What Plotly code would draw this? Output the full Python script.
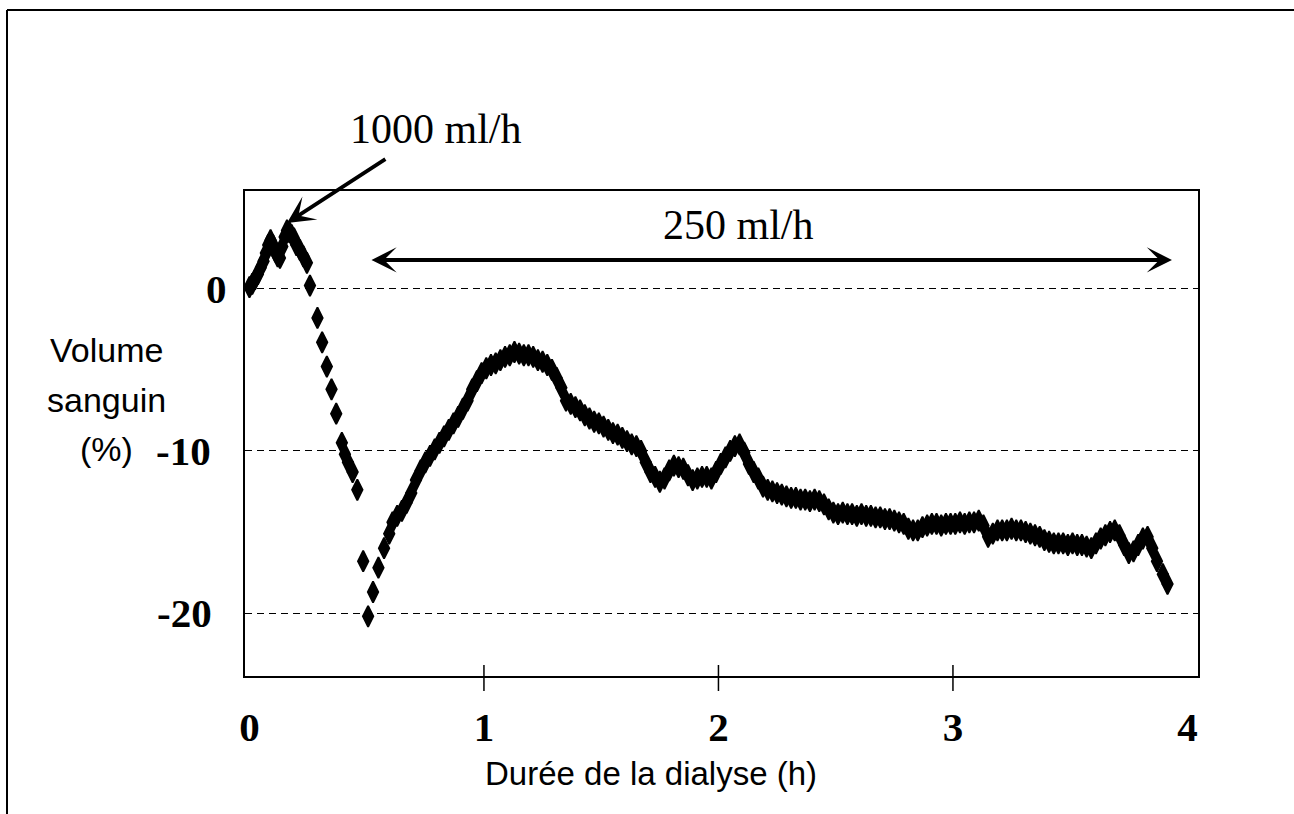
import plotly.graph_objects as go

# ---- data ----
time_h = [
    0.0, 0.012, 0.024, 0.036, 0.048, 0.06, 0.07, 0.08, 0.09, 0.10,
    0.11, 0.12, 0.13, 0.14, 0.15, 0.16, 0.17, 0.18, 0.19, 0.20,
    0.215, 0.23, 0.245, 0.258, 0.29, 0.31, 0.33, 0.35, 0.37, 0.394,
    0.407, 0.42, 0.44, 0.46, 0.485, 0.506, 0.527, 0.55, 0.574, 0.596,
    0.61, 0.63, 0.65, 0.67, 0.69, 0.71, 0.73, 0.75, 0.77, 0.79,
    0.81, 0.83, 0.85, 0.87, 0.89, 0.91, 0.93, 0.95, 0.97, 0.99,
    1.01, 1.03, 1.05, 1.07, 1.09, 1.11, 1.13, 1.15, 1.17, 1.19,
    1.21, 1.23, 1.25, 1.27, 1.29, 1.31, 1.33, 1.35, 1.37, 1.39,
    1.41, 1.43, 1.45, 1.47, 1.49, 1.51, 1.53, 1.55, 1.57, 1.59,
    1.61, 1.63, 1.65, 1.67, 1.69, 1.71, 1.73, 1.75, 1.77, 1.79,
    1.81, 1.83, 1.85, 1.87, 1.89, 1.91, 1.93, 1.95, 1.97, 1.99,
    2.01, 2.03, 2.05, 2.07, 2.09, 2.11, 2.13, 2.15, 2.17, 2.19,
    2.21, 2.23, 2.25, 2.27, 2.29, 2.31, 2.33, 2.35, 2.37, 2.39,
    2.41, 2.43, 2.45, 2.47, 2.49, 2.51, 2.53, 2.55, 2.57, 2.59,
    2.61, 2.63, 2.65, 2.67, 2.69, 2.71, 2.73, 2.75, 2.77, 2.79,
    2.81, 2.83, 2.85, 2.87, 2.89, 2.91, 2.93, 2.95, 2.97, 2.99,
    3.01, 3.03, 3.05, 3.07, 3.09, 3.11, 3.13, 3.15, 3.17, 3.19,
    3.21, 3.23, 3.25, 3.27, 3.29, 3.31, 3.33, 3.35, 3.37, 3.39,
    3.41, 3.43, 3.45, 3.47, 3.49, 3.51, 3.53, 3.55, 3.57, 3.59,
    3.61, 3.63, 3.65, 3.67, 3.69, 3.71, 3.73, 3.75, 3.77, 3.79,
    3.81, 3.83, 3.85, 3.87, 3.895, 3.915,
]
volume_pct = [
    0.1, 0.3, 0.6, 0.9, 1.3, 1.7, 2.2, 2.7, 3.0, 2.7,
    2.3, 2.0, 1.9, 2.6, 3.2, 3.6, 3.5, 3.3, 3.1, 2.7,
    2.4, 2.0, 1.6, 0.2, -1.8, -3.3, -4.8, -6.2, -7.7, -9.5,
    -10.2, -10.7, -11.3, -12.4, -16.8, -20.2, -18.7, -17.2, -16.0, -15.1,
    -14.4, -14.0, -13.7, -13.2, -12.6, -11.8, -11.2, -10.7, -10.3, -9.9,
    -9.5, -9.1, -8.7, -8.3, -7.9, -7.4, -6.9, -6.2, -5.7, -5.2,
    -4.9, -4.7, -4.6, -4.4, -4.2, -4.1, -3.9, -4.0, -4.1, -4.1,
    -4.2, -4.4, -4.5, -4.7, -5.0, -5.5, -6.1, -6.9, -7.1, -7.3,
    -7.5, -7.8, -8.0, -8.2, -8.3, -8.5, -8.7, -8.9, -9.0, -9.2,
    -9.4, -9.6, -9.7, -10.0, -10.7, -11.3, -11.6, -11.9, -11.7, -11.2,
    -10.9, -11.0, -11.1, -11.5, -11.8, -11.7, -11.6, -11.6, -11.7, -11.3,
    -10.8, -10.4, -10.0, -9.7, -9.6, -10.1, -10.8, -11.3, -11.7, -12.2,
    -12.4, -12.5, -12.6, -12.7, -12.8, -12.9, -12.9, -13.0, -13.0, -13.1,
    -13.0, -13.1, -13.3, -13.6, -13.8, -13.9, -13.8, -13.9, -13.9, -14.0,
    -13.9, -14.0, -14.0, -14.1, -14.1, -14.2, -14.2, -14.3, -14.4, -14.5,
    -14.8, -14.9, -14.9, -14.7, -14.6, -14.5, -14.5, -14.6, -14.5, -14.5,
    -14.5, -14.4, -14.5, -14.4, -14.4, -14.3, -14.6, -15.3, -15.1, -14.9,
    -14.9, -14.9, -14.8, -14.9, -14.9, -15.0, -15.1, -15.2, -15.3, -15.5,
    -15.6, -15.7, -15.7, -15.7, -15.8, -15.7, -15.8, -15.8, -15.9, -16.0,
    -15.7, -15.4, -15.2, -15.0, -14.9, -15.2, -15.8, -16.3, -16.2, -15.8,
    -15.4, -15.3, -16.0, -16.8, -17.6, -18.2,
]

x_tick_vals = [0, 1, 2, 3, 4]
x_tick_text = ["0", "1", "2", "3", "4"]
y_tick_vals = [-20, -10, 0]
y_tick_text = ["-20", "-10", "0"]

# ---- geometry (pixels) ----
W, H = 1294, 814
L, R, T, B = 245, 1198, 191, 676


def px(xp):
    return (xp - L) / (R - L)


def py(yp):
    return (B - yp) / (B - T)


fig = go.Figure()
fig.add_trace(go.Scatter(
    x=time_h, y=volume_pct, mode="markers",
    marker=dict(symbol="diamond-tall", size=15, color="black",
                line=dict(color="black", width=1.8)),
    showlegend=False, cliponaxis=False,
))

serif = "Liberation Serif"
sans = "Liberation Sans"

fig.update_layout(
    width=W, height=H, autosize=False,
    margin=dict(l=L, r=W - R, t=T, b=H - B, pad=0),
    paper_bgcolor="white", plot_bgcolor="white",
    xaxis=dict(range=[-0.019, 4.045], tickvals=x_tick_vals, ticktext=x_tick_text,
               showgrid=False, zeroline=False, showline=True, linecolor="black",
               linewidth=2, mirror=True, ticks="",
               tickfont=dict(family=serif, size=41, color="black", weight="bold"),
               ticklabelstandoff=14),
    yaxis=dict(range=[-23.88, 6.03], tickvals=y_tick_vals, showticklabels=False,
               showgrid=True, gridcolor="black", gridwidth=1.4, griddash="7px,5px",
               zeroline=False, showline=True, linecolor="black", linewidth=2,
               mirror=True, ticks=""),
)

# tick marks crossing the x axis
for v in x_tick_vals[1:-1]:
    fig.add_shape(type="line", xref="x", yref="paper", x0=v, x1=v,
                  y0=py(B + 15), y1=py(B - 11), line=dict(color="black", width=1.5))

# y tick labels
y_label_right = {"-20": 214, "-10": 213, "0": 229}
for v, t in zip(y_tick_vals, y_tick_text):
    fig.add_annotation(x=px(y_label_right[t]), xref="paper", y=v, yref="y",
                       text=f"<b>{t}</b>", showarrow=False, xanchor="right",
                       yanchor="middle",
                       font=dict(family=serif, size=41, color="black"))

# outer frame (top and left edges)
fig.add_shape(type="line", xref="paper", yref="paper", x0=px(7), x1=px(W + 5),
              y0=py(10), y1=py(10), line=dict(color="black", width=2))
fig.add_shape(type="line", xref="paper", yref="paper", x0=px(7), x1=px(7),
              y0=py(10), y1=py(H + 5), line=dict(color="black", width=2))

# axis titles
for txt, yc in [("Volume", 350), ("sanguin", 400), ("(%)", 449)]:
    fig.add_annotation(x=px(106), xref="paper", y=py(yc), yref="paper", text=txt,
                       showarrow=False, xanchor="center", yanchor="middle",
                       font=dict(family=sans, size=34, color="black"))
fig.add_annotation(x=px(651), xref="paper", y=py(773), yref="paper",
                   text="Durée de la dialyse (h)", showarrow=False,
                   xanchor="center", yanchor="middle",
                   font=dict(family=sans, size=33, color="black"))

# rate annotations
fig.add_annotation(x=px(436), y=py(129), xref="paper", yref="paper", text="1000 ml/h",
                   xanchor="center", yanchor="middle", showarrow=False,
                   font=dict(family=serif, size=42, color="black"))
fig.add_annotation(x=0.16, y=4.06, xref="x", yref="y", ax=0.586, ay=8.06,
                   axref="x", ayref="y", text="", showarrow=True,
                   arrowhead=3, arrowsize=1.2, arrowwidth=3.8, arrowcolor="black")
fig.add_annotation(x=2.087, y=3.95, xref="x", yref="y", text="250 ml/h",
                   xanchor="center", yanchor="middle", showarrow=False,
                   font=dict(family=serif, size=42, color="black"))
fig.add_annotation(x=3.934, y=1.78, xref="x", yref="y", ax=0.514, ay=1.78,
                   axref="x", ayref="y", text="", showarrow=True,
                   arrowside="end+start", arrowhead=3, startarrowhead=3,
                   arrowsize=1.05, startarrowsize=1.05, arrowwidth=4,
                   arrowcolor="black")

fig.write_html("out.html", config={"displayModeBar": False},
               post_script="document.body.style.margin='0';")
